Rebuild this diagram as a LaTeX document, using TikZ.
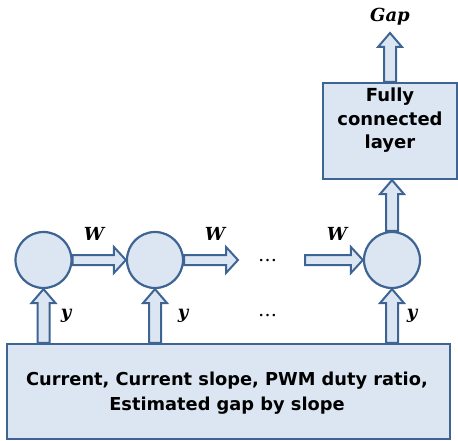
\documentclass[tikz,border=0pt]{standalone}
\usepackage{fontspec}
\setmainfont{DejaVu Sans}
\newfontfamily\varfont{DejaVu Serif}
\usetikzlibrary{calc}

\definecolor{boxfill}{HTML}{DCE6F2}
\definecolor{boxline}{RGB}{62,100,148}

\tikzset{
  panel/.style={draw=boxline, fill=boxfill, line width=2.2pt, inner sep=0pt},
  cell/.style={circle, draw=boxline, fill=boxfill, line width=2.2pt, minimum size=56pt, inner sep=0pt},
  blockarrow/.style={draw=boxline, fill=boxfill, line width=2pt, line join=miter},
  heading/.style={font=\fontsize{17.8}{25}\selectfont\bfseries, align=center},
  varlabel/.style={font=\varfont\fontsize{18}{18}\selectfont\bfseries\itshape},
  dots/.style={font=\varfont\fontsize{19}{19}\selectfont}
}

% horizontal block arrow from #1 to #2 (same height)
\newcommand\harrow[2]{%
  \filldraw[blockarrow] let \p1=(#1), \p2=(#2) in
    (\x1,\y1-5pt) -- (\x2-12pt,\y1-5pt) -- (\x2-12pt,\y1-13pt) -- (\x2,\y1)
    -- (\x2-12pt,\y1+13pt) -- (\x2-12pt,\y1+5pt) -- (\x1,\y1+5pt) -- cycle;}
% upward block arrow from #1 to #2 (same x)
\newcommand\varrow[2]{%
  \filldraw[blockarrow] let \p1=(#1), \p2=(#2) in
    (\x1-6pt,\y1) -- (\x1-6pt,\y2-14pt) -- (\x1-12pt,\y2-14pt) -- (\x1,\y2)
    -- (\x1+12pt,\y2-14pt) -- (\x1+6pt,\y2-14pt) -- (\x1+6pt,\y1) -- cycle;}

\begin{document}
\begin{tikzpicture}[x=1pt, y=-1pt]
  \useasboundingbox (0,0) rectangle (458,441);

  % recurrent cells
  \node[cell] (c1) at (43.5,260) {};
  \node[cell] (c2) at (155,260) {};
  \node[cell] (c3) at (392,260) {};

  % input block
  \node[panel, minimum width=443pt, minimum height=95pt] (inp) at (228.5,391.5) {};
  \node[heading] (inptext) at (227,393.5) {Current, Current slope, PWM duty ratio,\\Estimated gap by slope};

  % fully connected block
  \node[panel, minimum width=134pt, minimum height=96pt] (fc) at (390,131) {};
  \node[heading, font=\fontsize{18}{23.5}\selectfont\bfseries] (fctext) at (390,120.5) {Fully\\connected\\layer};

  % free arrow ends
  \coordinate (h2end) at (238,260);
  \coordinate (h3start) at (305,260);
  \coordinate (out) at (392,33);
  \coordinate (in1) at (c1 |- inp.north);
  \coordinate (in2) at (c2 |- inp.north);
  \coordinate (in3) at (c3 |- inp.north);

  % recurrent connections
  \harrow{c1.east}{c2.west}
  \harrow{c2.east}{h2end}
  \harrow{h3start}{c3.west}

  % inputs into the cells
  \varrow{in1}{c1.south}
  \varrow{in2}{c2.south}
  \varrow{in3}{c3.south}

  % output path
  \varrow{c3.north}{fc.south}
  \varrow{fc.north}{out}

  % labels
  \node[varlabel] (w1) at (94,234) {W};
  \node[varlabel] (w2) at (215,234) {W};
  \node[varlabel] (w3) at (337,234) {W};
  \node[varlabel] (y1) at (66,316) {y};
  \node[varlabel] (y2) at (183,316) {y};
  \node[varlabel] (y3) at (412,316) {y};
  \node[dots] (d1) at (267.5,261) {\dots};
  \node[dots] (d2) at (267.5,316) {\dots};
  \node[varlabel] (gap) at (390,17) {Gap};
\end{tikzpicture}
\end{document}
